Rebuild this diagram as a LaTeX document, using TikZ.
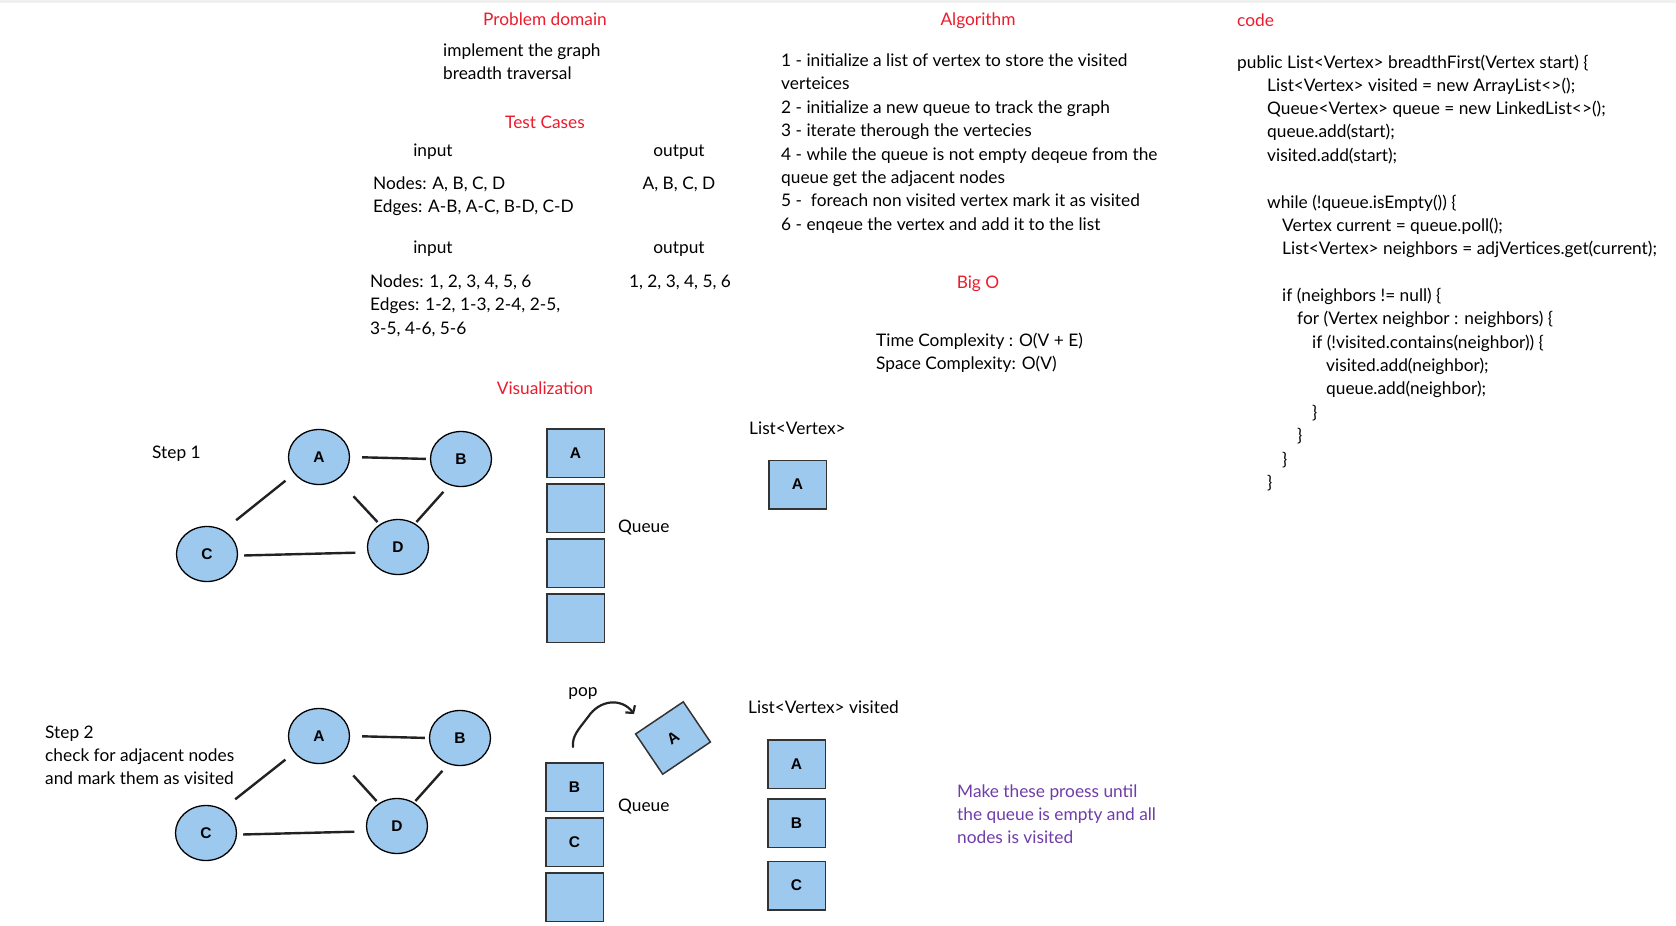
\documentclass[tikz,border=0pt]{standalone}
\usepackage{fontspec}
\setmainfont{Lato}
\newfontfamily\lblfamily{Liberation Sans}
\usetikzlibrary{shapes.geometric,arrows.meta}
\definecolor{nodeblue}{RGB}{157,201,238}
\definecolor{headred}{RGB}{235,28,45}
\definecolor{notepurple}{RGB}{112,60,170}
\definecolor{edgegray}{RGB}{34,34,34}
\newcommand{\txtfont}{\fontsize{17.3}{20}\selectfont}
\newcommand{\lblfont}{\lblfamily\bfseries\fontsize{15.5}{17}\selectfont}

\begin{document}
\begin{tikzpicture}[x=1pt, y=-1pt,
		vertex_style/.style={ellipse,draw=black,line width=1.3pt,fill=nodeblue,minimum width=61pt,minimum height=55pt,inner sep=0pt,font=\lblfont},
		box_style/.style={rectangle,draw=black!80,line width=1.5pt,fill=nodeblue,minimum width=57.5pt,minimum height=48.5pt,inner sep=0pt,font=\lblfont},
		edge_style/.style={draw=edgegray,line width=2.4pt},
		pop_style/.style={draw=edgegray,line width=2.2pt,line cap=round,-{Straight Barb[length=5pt,width=12pt]}},
		text_style/.style={anchor=west,inner sep=0pt,text height=13pt,text depth=0pt,font=\txtfont},
		mid_style/.style={inner sep=0pt,text height=13pt,text depth=0pt,font=\txtfont},
		head_style/.style={mid_style,text=headred}]

	\useasboundingbox (0,0) rectangle (1676,926);
	\fill[white] (0,0) rectangle (1676,926);
	\fill[black!6] (0,0) rectangle (1676,3);

	% problem domain and test cases
	\node[head_style] (h_problem) at (545,19) {Problem domain};
	\node[text_style] (t_impl1) at (443,50) {implement the graph};
	\node[text_style] (t_impl2) at (443,73) {breadth traversal};
	\node[head_style] (h_tests) at (545,122) {Test Cases};
	\node[mid_style] (t_in1) at (433,150) {input};
	\node[mid_style] (t_out1) at (679,150) {output};
	\node[text_style] (t_nodes1) at (373,183) {Nodes: A, B, C, D};
	\node[text_style] (t_edges1) at (373,206) {Edges: A-B, A-C, B-D, C-D};
	\node[mid_style] (t_res1) at (679,183) {A, B, C, D};
	\node[mid_style] (t_in2) at (433,247) {input};
	\node[mid_style] (t_out2) at (679,247) {output};
	\node[text_style] (t_nodes2) at (370,281) {Nodes: 1, 2, 3, 4, 5, 6};
	\node[text_style] (t_edges2) at (370,304) {Edges: 1-2, 1-3, 2-4, 2-5,};
	\node[text_style] (t_edges3) at (370,328) {3-5, 4-6, 5-6};
	\node[mid_style] (t_res2) at (680,281) {1, 2, 3, 4, 5, 6};
	\node[head_style] (h_vis) at (545,388) {Visualization};

	% algorithm and big o
	\node[head_style] (h_algo) at (978,19) {Algorithm};
	\node[text_style] (a1) at (781,60) {1 - initialize a list of vertex to store the visited};
	\node[text_style] (a2) at (781,83) {verteices};
	\node[text_style] (a3) at (781,107) {2 - initialize a new queue to track the graph};
	\node[text_style] (a4) at (781,130) {3 - iterate therough the vertecies};
	\node[text_style] (a5) at (781,154) {4 - while the queue is not empty deqeue from the};
	\node[text_style] (a6) at (781,177) {queue get the adjacent nodes};
	\node[text_style] (a7) at (781,200) {5 -~~foreach non visited vertex mark it as visited};
	\node[text_style] (a8) at (781,224) {6 - enqeue the vertex and add it to the list};
	\node[head_style] (h_bigo) at (978,282) {Big O};
	\node[text_style] (b1) at (876,340) {Time Complexity : O(V + E)};
	\node[text_style] (b2) at (876,363) {Space Complexity: O(V)};

	% code
	\node[text_style,text=headred] (h_code) at (1237,20) {code};
	\node[text_style] (c1) at (1237,62) {public List<Vertex> breadthFirst(Vertex start) \{};
	\node[text_style] (c2) at (1267,85) {List<Vertex> visited = new ArrayList<>();};
	\node[text_style] (c3) at (1267,108) {Queue<Vertex> queue = new LinkedList<>();};
	\node[text_style] (c4) at (1267,131) {queue.add(start);};
	\node[text_style] (c5) at (1267,155) {visited.add(start);};
	\node[text_style] (c6) at (1267,202) {while (!queue.isEmpty()) \{};
	\node[text_style] (c7) at (1282,225) {Vertex current = queue.poll();};
	\node[text_style] (c8) at (1282,248) {List<Vertex> neighbors = adjVertices.get(current);};
	\node[text_style] (c9) at (1282,295) {if (neighbors != null) \{};
	\node[text_style] (c10) at (1297,318) {for (Vertex neighbor : neighbors) \{};
	\node[text_style] (c11) at (1312,342) {if (!visited.contains(neighbor)) \{};
	\node[text_style] (c12) at (1326,365) {visited.add(neighbor);};
	\node[text_style] (c13) at (1326,388) {queue.add(neighbor);};
	\node[text_style] (c14) at (1312,412) {\}};
	\node[text_style] (c15) at (1297,435) {\}};
	\node[text_style] (c16) at (1282,459) {\}};
	\node[text_style] (c17) at (1267,482) {\}};

	% step 1
	\node[text_style] (s1) at (152,452) {Step 1};
	\node[vertex_style] (A1) at (319,457) {A};
	\node[vertex_style] (B1) at (461,459) {B};
	\node[vertex_style] (C1) at (207,554) {C};
	\node[vertex_style] (D1) at (398,547) {D};

	\draw[edge_style, shorten <=12pt, shorten >=4pt] (A1.0) -- (B1.180);
	\draw[edge_style, shorten <=11pt, shorten >=16pt] (A1.214) -- (C1.55);
	\draw[edge_style, shorten <=23pt, shorten >=3pt] (A1.310) -- (D1.129);
	\draw[edge_style, shorten <=9pt, shorten >=2pt] (B1.246) -- (D1.54);
	\draw[edge_style, shorten <=6pt, shorten >=12pt] (C1.357) -- (D1.190);

	\node[box_style] (q1a) at (575.5,453) {A};
	\node[box_style] (q1b) at (575.5,508) {};
	\node[box_style] (q1c) at (575.5,563) {};
	\node[box_style] (q1d) at (575.5,618) {};
	\node[text_style] (q1_label) at (618,526) {Queue};

	\node[text_style] (l1_label) at (749,428) {List<Vertex>};
	\node[box_style] (l1a) at (797.5,484.5) {A};

	% step 2
	\node[text_style] (s2) at (45,732) {Step 2};
	\node[text_style] (s2b) at (45,755) {check for adjacent nodes};
	\node[text_style] (s2c) at (45,778) {and mark them as visited};
	\node[vertex_style] (A2) at (319,736) {A};
	\node[vertex_style] (B2) at (460,738) {B};
	\node[vertex_style] (C2) at (206,833) {C};
	\node[vertex_style] (D2) at (397,826) {D};

	\draw[edge_style, shorten <=12pt, shorten >=4pt] (A2.0) -- (B2.180);
	\draw[edge_style, shorten <=11pt, shorten >=16pt] (A2.214) -- (C2.55);
	\draw[edge_style, shorten <=23pt, shorten >=3pt] (A2.310) -- (D2.129);
	\draw[edge_style, shorten <=9pt, shorten >=2pt] (B2.246) -- (D2.54);
	\draw[edge_style, shorten <=6pt, shorten >=12pt] (C2.357) -- (D2.190);

	\node[mid_style] (pop_label) at (583,690) {pop};
	\coordinate (pop_start) at (573,747);
	\coordinate (pop_end) at (634,714);
	\draw[pop_style] (pop_start) .. controls (572,736) and (578,730) .. (588,717) .. controls (600,699) and (622,698) .. (pop_end);
	\node[box_style, rotate=34] (popA) at (673,738) {A};

	\node[box_style] (q2a) at (574.5,787) {B};
	\node[box_style] (q2b) at (574.5,842) {C};
	\node[box_style] (q2c) at (574.5,897) {};
	\node[text_style] (q2_label) at (618,805) {Queue};

	\node[text_style] (l2_label) at (748,707) {List<Vertex> visited};
	\node[box_style] (l2a) at (796.5,764) {A};
	\node[box_style] (l2b) at (796.5,823) {B};
	\node[box_style] (l2c) at (796.5,885.5) {C};

	\node[text_style,text=notepurple] (n1) at (957,791) {Make these proess until};
	\node[text_style,text=notepurple] (n2) at (957,814) {the queue is empty and all};
	\node[text_style,text=notepurple] (n3) at (957,837) {nodes is visited};
\end{tikzpicture}
\end{document}
